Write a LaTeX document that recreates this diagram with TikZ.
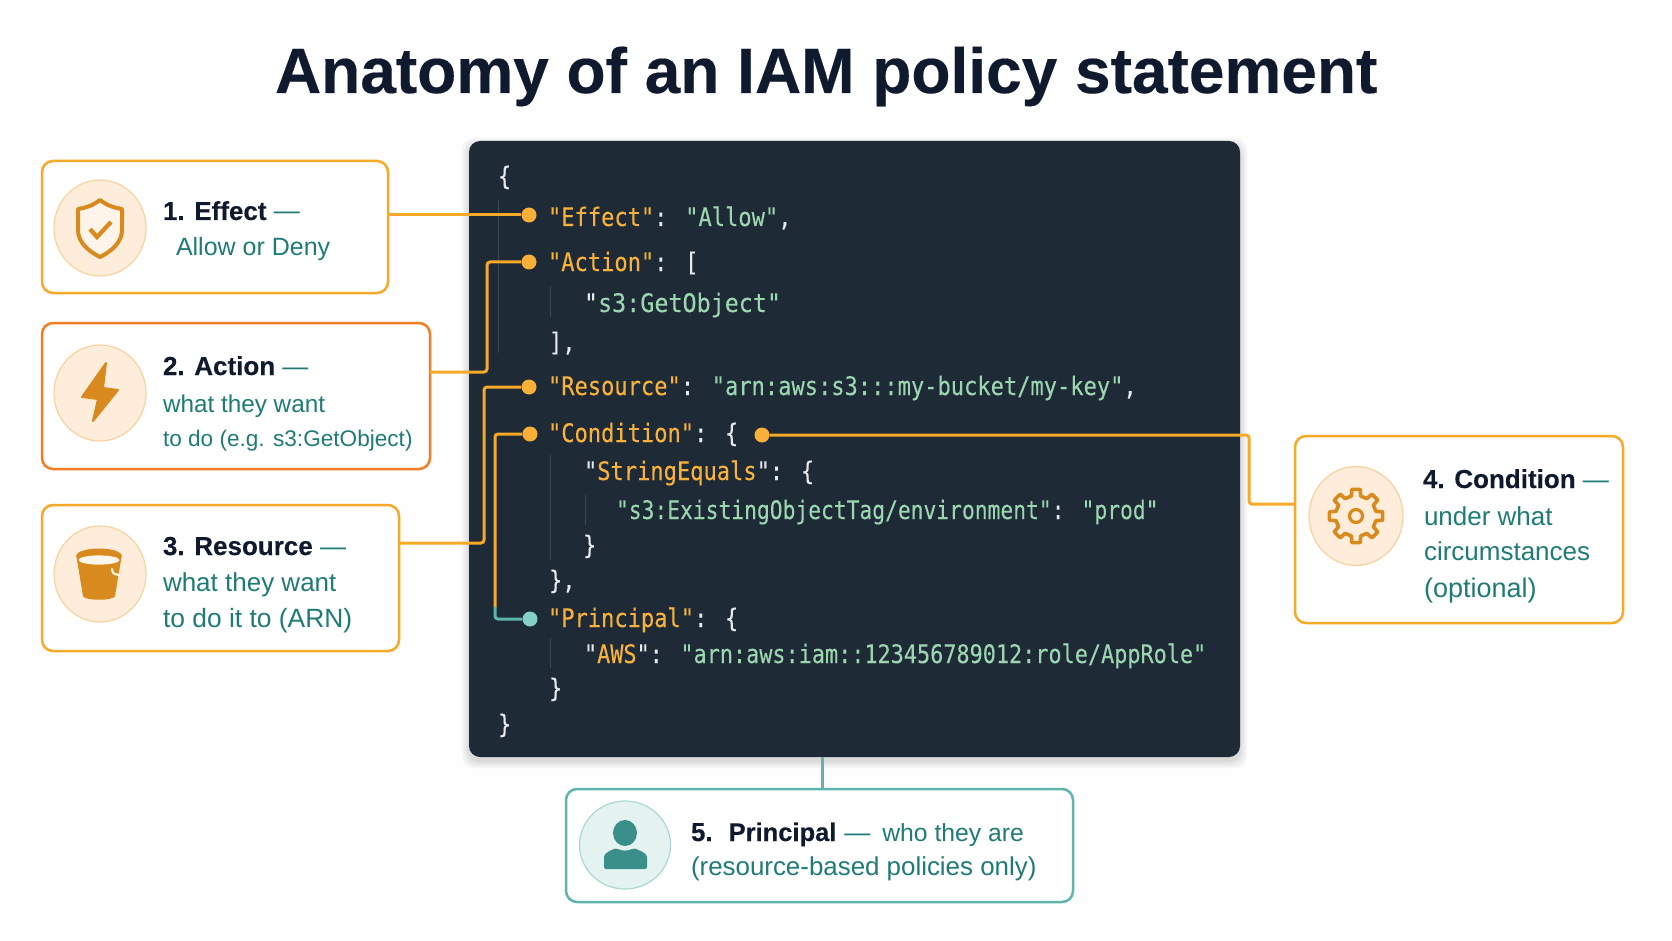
\documentclass[tikz,border=0pt]{standalone}
\usepackage{fontspec}
\usepackage{graphicx}
\setmainfont[BoldFeatures={FakeBold=0.25}]{Liberation Sans}
\newfontfamily\codef[FakeStretch=0.865,FakeBold=0.15]{DejaVu Sans Mono}
\usetikzlibrary{calc,shapes.geometric}
\definecolor{bg}{HTML}{FEFEFE}
\definecolor{panelc}{HTML}{1E2A36}
\definecolor{amber}{HTML}{F7A928}
\definecolor{deep}{HTML}{F47D23}
\definecolor{tealc}{HTML}{5FB5AE}
\definecolor{tealdot}{HTML}{85D0C6}
\definecolor{tealtxt}{HTML}{1F7B76}
\definecolor{ink}{HTML}{101A2E}
\definecolor{key}{HTML}{F8B23C}
\definecolor{val}{HTML}{9BD6B0}
\definecolor{punc}{HTML}{E6EAEE}
\definecolor{guide}{HTML}{3B4652}
\definecolor{icon}{HTML}{D98A1E}
\definecolor{disc}{HTML}{FDEDDA}
\definecolor{discb}{HTML}{F9D29F}
\definecolor{tdisc}{HTML}{E4F2F0}
\definecolor{tdiscb}{HTML}{ABD8D3}
\definecolor{person}{HTML}{3A8F8A}
\newcommand{\kk}[1]{\textcolor{key}{#1}}
\newcommand{\vl}[1]{\textcolor{val}{#1}}
\newcommand{\hd}[1]{{\bfseries\color{ink}#1}}
\newcommand{\dsh}{\textcolor{tealtxt}{—}}
\newcommand{\sz}[1]{\fontsize{#1}{#1}\selectfont}
\tikzset{
  card/.style={draw=amber,line width=2.5pt,rounded corners=11pt,fill=white,anchor=north west,inner sep=0pt,outer sep=0pt},
  tcard/.style={card,draw=tealc},
  dcard/.style={card,draw=deep},
  disk/.style={ellipse,draw=discb,fill=disc,line width=1.2pt,minimum width=92pt,minimum height=96pt,inner sep=0pt},
  tdisk/.style={disk,draw=tdiscb,fill=tdisc,minimum width=91pt,minimum height=88pt},
  txt/.style={anchor=base west,inner sep=0pt,outer sep=0pt},
  sub/.style={txt,text=tealtxt},
  code/.style={txt,font=\codef\sz{25.5},text=punc},
  conn/.style={draw=amber,line width=3pt,rounded corners=3pt},
  tconn/.style={draw=tealc,line width=3pt,rounded corners=3pt},
  dot/.style={circle,fill=amber!92!white,minimum size=15pt,inner sep=0pt},
  tdot/.style={dot,fill=tealdot},
  guideline/.style={draw=guide,line width=1pt},
}
\begin{document}
\begin{tikzpicture}[x=1pt,y=-1pt]
\useasboundingbox (0,0) rectangle (1672,941);
\fill[bg] (0,0) rectangle (1672,941);

% title
\node[txt,font=\sz{64}\bfseries,text=ink] (title) at (275,93) {Anatomy of an IAM policy statement};

% panel shadow
\foreach \g in {7,5,3,1}
  \fill[black,opacity=.035,rounded corners=12pt] (469-\g,141-\g+4) rectangle (1240+\g,757+\g+4);
\node[fill=panelc,rounded corners=11pt,anchor=north west,minimum width=771pt,minimum height=616pt,inner sep=0pt,outer sep=0pt] (panel) at (469,141) {};

% indent guides
\draw[guideline] (498,200) -- (498,353);
\draw[guideline] (550,286) -- (550,317);
\draw[guideline] (550,455) -- (550,560);
\draw[guideline] (585,495) -- (585,525);
\draw[guideline] (550,638) -- (550,668);

% code
\node[code] (l1) at (498,185) {\{};
\node[code] (l2) at (548,226) {\kk{"Effect"}: \vl{"Allow"},};
\node[code] (l3) at (548,271) {\kk{"Action"}: [};
\node[code] (l4) at (584,312) {\scalebox{1.06}[1]{"\vl{s3:GetObject"}}};
\node[code] (l5) at (549,351) {],};
\node[code] (l6) at (548,395) {\kk{"Resource"}: \vl{"arn:aws:s3:::my-bucket/my-key"},};
\node[code] (l7) at (548,442) {\kk{"Condition"}: \{};
\node[code] (l8) at (584,480) {"\kk{StringEquals}": \{};
\node[code] (l9) at (616,519) {\scalebox{0.965}[1]{\vl{"s3:ExistingObjectTag/environment"}: \vl{"prod"}}};
\node[code] (l10) at (583,554) {\}};
\node[code] (l11) at (549,589) {\},};
\node[code] (l12) at (548,627) {\kk{"Principal"}: \{};
\node[code] (l13) at (584,663) {\scalebox{0.99}[1]{"\kk{AWS}": \vl{"arn:aws:iam::123456789012:role/AppRole"}}};
\node[code] (l14) at (549,697) {\}};
\node[code] (l15) at (498,733) {\}};

% cards
\node[card,minimum width=346pt,minimum height=132pt] (c1) at (42,161) {};
\node[dcard,minimum width=388pt,minimum height=146pt] (c2) at (42,323) {};
\node[card,minimum width=357pt,minimum height=146pt] (c3) at (42,505) {};
\node[card,minimum width=328pt,minimum height=187pt] (c4) at (1295,436) {};
\node[tcard,minimum width=507pt,minimum height=113pt] (c5) at (566,789) {};

% dots
\node[dot] (d1) at (529,215) {};
\node[dot] (d2) at (529,262) {};
\node[dot] (d3) at (529,387) {};
\node[dot] (d4) at (530,434) {};
\node[dot] (d4b) at (762,435) {};
\node[tdot] (d5) at (530,619) {};

% connector ports and bends
\coordinate (p1) at (c1.east |- d1);
\coordinate (p2) at (430,372);
\coordinate (p3) at (399,543);
\coordinate (p4) at (1295,504);
\coordinate (b2) at (487,372);
\coordinate (b3) at (484,543);
\coordinate (b4) at (495,434);
\coordinate (b4m) at (495,607);
\coordinate (b4n) at (495,619);
\coordinate (b6) at (1249,435);
\coordinate (b6n) at (1249,504);
\coordinate (pb) at (822,757);

\draw[conn] (p1) -- (d1);
\draw[conn] (p2) -- (b2) -- (b2 |- d2) -- (d2);
\draw[conn] (p3) -- (b3) -- (b3 |- d3) -- (d3);
\draw[tconn] (b4m) -- (b4n) -- (d5);
\draw[conn] (d4) -- (b4) -- (b4m);
\draw[conn] (d4b) -- (b6) -- (b6n) -- (p4);
\draw[tconn] (pb) -- (c5.north -| pb);

% disks
\node[disk] (i1) at (100,228) {};
\node[disk] (i2) at (100,393) {};
\node[disk] (i3) at (100,574) {};
\node[disk,minimum width=94pt,minimum height=99pt] (i4) at (1356,516) {};
\node[tdisk] (i5) at (625,845) {};

% shield
\draw[icon,line width=4pt,line join=round,fill=disc!60!white]
  (100,200) .. controls (92,206) and (85,208) .. (78,209)
  -- (78,230) .. controls (78,242) and (88,251) .. (100,257)
  .. controls (112,251) and (122,242) .. (122,230) -- (122,209)
  .. controls (115,208) and (108,206) .. (100,200) -- cycle;
\draw[icon,line width=4.2pt] (90,229) -- (97,237) -- (111,222);

% bolt
\fill[icon,draw=icon,line width=2pt,line join=round]
  (106,363) -- (82,397) -- (98,399) -- (93,421) -- (118,390) -- (103,388) -- cycle;

% bucket
\fill[icon] (99,556) ellipse[x radius=23,y radius=7.5];
\fill[icon] (76.5,557) -- (121.5,557) -- (115,596) .. controls (114,601) and (84,601) .. (83,596) -- cycle;
\fill[disc!55!white] (99,560) ellipse[x radius=20.5,y radius=4.6];
\draw[disc!70!white,line width=2.2pt,line cap=round] (112,569) .. controls (112,574) and (116,575) .. (119,575);

% gear
\draw[icon,line width=3.6pt,line join=round]
  ({1356+20.5*cos(-13)},{516+20.5*sin(-13)})
  \foreach \a in {0,45,...,315}{
    -- ({1356+27*cos(\a-9)},{516+27*sin(\a-9)})
    -- ({1356+27*cos(\a+9)},{516+27*sin(\a+9)})
    -- ({1356+20.5*cos(\a+13)},{516+20.5*sin(\a+13)})
    -- ({1356+20.5*cos(\a+32)},{516+20.5*sin(\a+32)})
  } -- cycle;
\draw[icon,line width=3.2pt] (1356,516) circle[radius=6.5];

% person
\fill[person] (625,833) ellipse[x radius=12,y radius=13];
\fill[person,rounded corners=2pt] (604,869) -- (604,859) .. controls (604,853) and (611,850) .. (617,848)
  .. controls (621,851) and (629,851) .. (633,848) .. controls (639,850) and (647,853) .. (647,859) -- (647,869) -- cycle;

% card texts
\node[txt,font=\sz{26}] (t1) at (163,220) {\hd{1. Effect} \dsh};
\node[sub,font=\sz{25}] (s1) at (176,255) {Allow or Deny};

\node[txt,font=\sz{26}] (t2) at (163,375) {\hd{2. Action} \dsh};
\node[sub,font=\sz{24.3}] (s2a) at (163,412) {what they want};
\node[sub,font=\sz{22.6}] (s2b) at (163,446) {to do (e.g. s3:GetObject)};

\node[txt,font=\sz{26}] (t3) at (163,555) {\hd{3. Resource} \dsh};
\node[sub,font=\sz{26}] (s3a) at (163,591) {what they want};
\node[sub,font=\sz{26.4}] (s3b) at (163,627) {to do it to (ARN)};

\node[txt,font=\sz{26}] (t4) at (1423,488) {\hd{4. Condition} \dsh};
\node[sub,font=\sz{26}] (s4a) at (1424,525) {under what};
\node[sub,font=\sz{26}] (s4b) at (1424,560) {circumstances};
\node[sub,font=\sz{27}] (s4c) at (1424,597) {(optional)};

\node[txt,font=\sz{26}] (t5) at (691,841) {\hd{5.\hspace{16pt}\sz{25.5}Principal}\hspace{8pt}\dsh\hspace{12pt}\textcolor{tealtxt}{\sz{24.7}who they are}};
\node[sub,font=\sz{25.9}] (s5) at (691,875) {(resource-based policies only)};
\end{tikzpicture}
\end{document}
